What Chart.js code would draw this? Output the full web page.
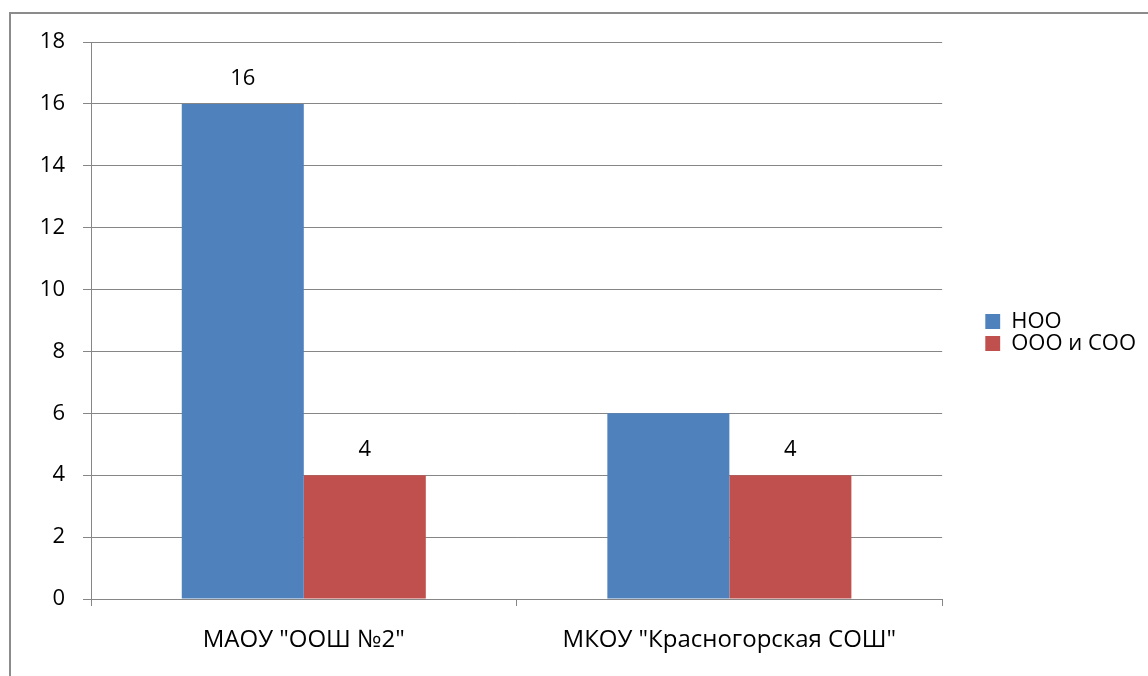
<!DOCTYPE html>
<html>
<head>
<meta charset="utf-8">
<script src="https://cdn.jsdelivr.net/npm/chart.js@4/dist/chart.umd.min.js"></script>
<style>
  html, body { margin: 0; padding: 0; background: #ffffff; overflow: hidden; }
  #wrap { position: relative; width: 1148px; height: 676px; }
  #frame { position: absolute; left: 9px; top: 12px; width: 1400px; height: 900px;
           border: 2px solid #8c8c8c; pointer-events: none; box-sizing: border-box; }
  canvas { position: absolute; left: 0; top: 0; }
</style>
</head>
<body>
<div id="wrap">
  <canvas id="c" width="1148" height="676"></canvas>
  <div id="frame"></div>
</div>
<script>
// ---- data ----
const categories = ['МАОУ "ООШ №2"', 'МКОУ "Красногорская СОШ"'];
const seriesNames = ['НОО', 'ООО и СОО'];
const valuesNOO = [16, 6];
const valuesOOO = [4, 4];
const showLabelNOO = [true, false];
const showLabelOOO = [true, true];
const yTicks = [0, 2, 4, 6, 8, 10, 12, 14, 16, 18];

const FONT = 'Open Sans';
const FS = 22;
const GRID = '#868686';

const valueLabels = {
  id: 'valueLabels',
  afterDatasetsDraw(chart) {
    const ctx = chart.ctx;
    ctx.save();
    ctx.font = FS + 'px "' + FONT + '"';
    ctx.fillStyle = '#000';
    ctx.textAlign = 'center';
    ctx.textBaseline = 'middle';
    chart.data.datasets.forEach((ds, di) => {
      const meta = chart.getDatasetMeta(di);
      meta.data.forEach((el, i) => {
        if (!ds.showLabels[i]) return;
        ctx.fillText(String(ds.data[i]), el.x, el.y - 25);
      });
    });
    ctx.restore();
  }
};

new Chart(document.getElementById('c'), {
  type: 'bar',
  data: {
    labels: categories,
    datasets: [
      { label: seriesNames[0], data: valuesNOO, showLabels: showLabelNOO,
        backgroundColor: '#4F81BD', borderWidth: 0,
        categoryPercentage: 0.5734, barPercentage: 1.0 },
      { label: seriesNames[1], data: valuesOOO, showLabels: showLabelOOO,
        backgroundColor: '#C0504D', borderWidth: 0,
        categoryPercentage: 0.5734, barPercentage: 1.0 }
    ]
  },
  options: {
    responsive: false,
    animation: false,
    layout: { padding: { left: 12, right: 2, top: 0, bottom: 11 } },
    plugins: {
      legend: {
        position: 'right',
        fullSize: true,
        labels: {
          boxWidth: 15, boxHeight: 15, padding: 0,
          color: '#000',
          font: { family: FONT, size: FS }
        }
      },
      tooltip: { enabled: false }
    },
    scales: {
      x: {
        position: 'bottom',
        grid: { display: true, drawOnChartArea: false, drawTicks: true, tickLength: 7,
                color: GRID, lineWidth: 1, offset: true },
        border: { display: true, color: GRID, width: 1 },
        ticks: { color: '#000', font: { family: FONT, size: 24 }, padding: 20, maxRotation: 0 },
        afterFit(s) { s.height = 66; }
      },
      xTop: {
        type: 'linear', axis: 'x', position: 'top', display: true,
        grid: { display: false }, border: { display: false }, ticks: { display: false },
        afterFit(s) { s.height = 42; }
      },
      y: {
        min: 0, max: 18,
        afterBuildTicks(s) { s.ticks = yTicks.map(v => ({ value: v })); },
        grid: { color: GRID, lineWidth: 1, tickLength: 8, drawTicks: true },
        border: { display: true, color: GRID, width: 1 },
        ticks: { color: '#000', font: { family: FONT, size: FS }, padding: 18 },
        afterFit(s) { s.width = 79; }
      },
      yRight: {
        type: 'linear', position: 'right', display: true,
        grid: { display: false }, border: { display: false }, ticks: { display: false },
        afterFit(s) { s.width = 43; }
      }
    }
  },
  plugins: [valueLabels]
});
</script>
</body>
</html>
